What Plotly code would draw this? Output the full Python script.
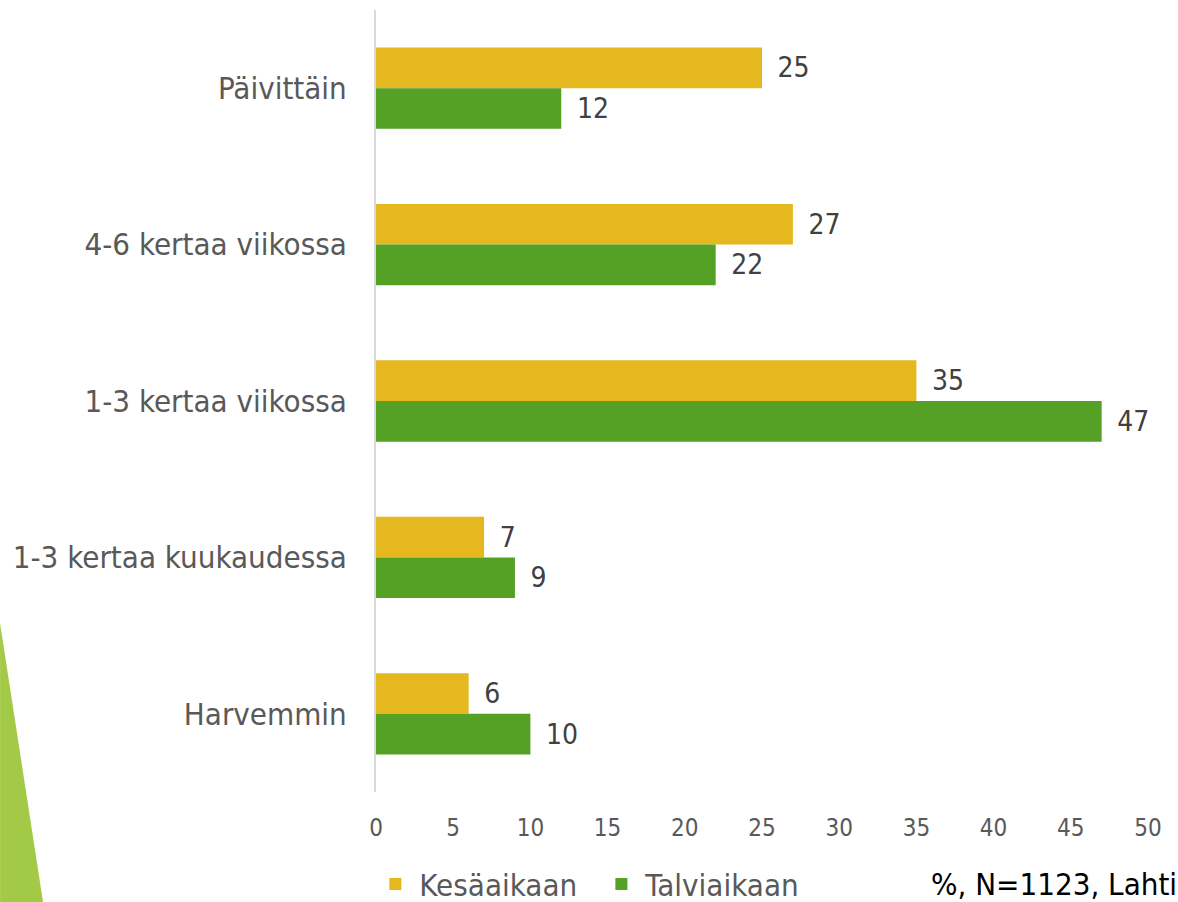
import plotly.graph_objects as go

categories = ['Päivittäin', '4-6 kertaa viikossa', '1-3 kertaa viikossa',
              '1-3 kertaa kuukaudessa', 'Harvemmin']
kesa = [25, 27, 35, 7, 6]
talvi = [12, 22, 47, 9, 10]
x_ticks = [0, 5, 10, 15, 20, 25, 30, 35, 40, 45, 50]

FONT = 'DejaVu Sans Condensed'
YELLOW = '#E5B81F'
GREEN = '#55A125'

fig = go.Figure()
fig.add_trace(go.Bar(
    y=categories, x=kesa, orientation='h', name='Kesäaikaan',
    marker=dict(color=YELLOW, line=dict(width=0)), text=kesa,
    texttemplate='\u2002%{x}', textposition='outside', cliponaxis=False,
    textfont=dict(family=FONT, size=28, color='#404040')
))
fig.add_trace(go.Bar(
    y=categories, x=talvi, orientation='h', name='Talviaikaan',
    marker=dict(color=GREEN, line=dict(width=0)), text=talvi,
    texttemplate='\u2002%{x}', textposition='outside', cliponaxis=False,
    textfont=dict(family=FONT, size=28, color='#404040')
))

# green triangle decoration at bottom left
fig.add_shape(
    type='path', xref='paper', yref='paper',
    path='M -0.487 0.216 L -0.4313 -0.1407 L -0.487 -0.1407 Z',
    fillcolor='#A3CA47', line=dict(width=0), layer='below'
)

fig.add_annotation(
    text='%, N=1123, Lahti', xref='paper', yref='paper',
    x=1.04, y=-0.118, xanchor='right', yanchor='middle', showarrow=False,
    font=dict(family=FONT, size=31, color='#000000')
)

fig.update_layout(
    width=1178, height=902,
    margin=dict(l=376, r=30, t=10, b=110, autoexpand=False),
    paper_bgcolor='white', plot_bgcolor='white',
    barmode='group', bargap=0.48, bargroupgap=0,
    font=dict(family=FONT, color='#595959'),
    legend=dict(orientation='h', x=-0.006, y=-0.118, xanchor='left',
                yanchor='middle', font=dict(size=31, color='#595959'),
                itemwidth=38, tracegroupgap=0, entrywidth=173),
    xaxis=dict(range=[0, 50], tickvals=x_ticks, showgrid=False,
               zeroline=False, showline=False, ticks='', automargin=False,
               ticklabelstandoff=19,
               tickfont=dict(size=24, color='#595959')),
    yaxis=dict(autorange='reversed', showline=True, linecolor='#D9D9D9',
               linewidth=2, showgrid=False, ticks='', ticklabelstandoff=21,
               automargin=False,
               tickfont=dict(size=31, color='#595959')),
)

fig.write_html('out.html', config={'displayModeBar': False},
               post_script="document.body.style.margin='0';")
